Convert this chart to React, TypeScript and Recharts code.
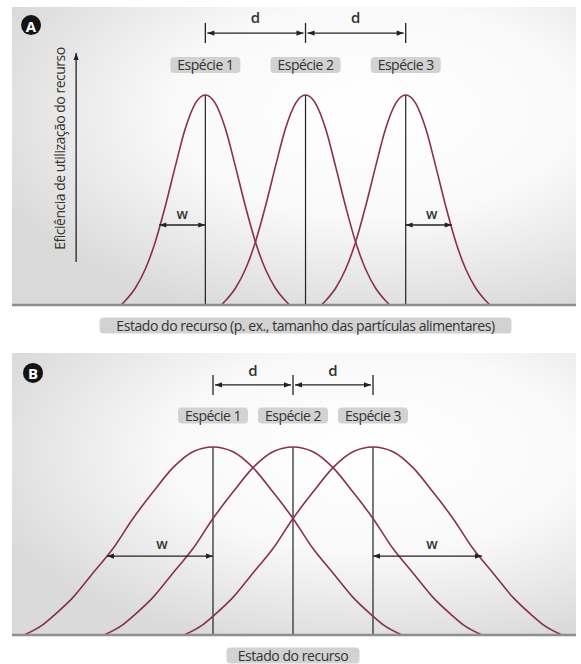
import { ComposedChart, Line, XAxis, YAxis, ReferenceLine, ReferenceDot, ReferenceArea } from "recharts";

const FONT = "'Open Sans', sans-serif";
const CURVE = "#8a2f4f";
const INK = "#222";

// panel A: narrow niches (x in resource units, species 2 at 0)
const offsetsA = [-8.4, -8, -7, -6, -5, -4, -3, -2, -1, 0, 1, 2, 3, 4, 5, 6, 7, 8, 8.4];
const profileA = [0, 0.02, 0.08, 0.17, 0.3, 0.47, 0.66, 0.84, 0.96, 1, 0.96, 0.84, 0.66, 0.47, 0.3, 0.17, 0.08, 0.02, 0];
const centersA = [-10, 0, 10];

// panel B: wide niches
const offsetsB = [-18.9, -17, -16, -14, -12, -10, -8, -6, -4, -2, 0, 2, 4, 6, 8, 10, 12, 14, 16, 17, 18.9];
const profileB = [0, 0.055, 0.1, 0.2, 0.33, 0.46, 0.62, 0.76, 0.89, 0.975, 1, 0.975, 0.89, 0.76, 0.62, 0.46, 0.33, 0.2, 0.1, 0.055, 0];
const centersB = [-8, 0, 8];

const speciesLabels = ["Espécie 1", "Espécie 2", "Espécie 3"];
const yLabel = "Eficiência de utilização do recurso";
const xLabelA = "Estado do recurso (p. ex., tamanho das partículas alimentares)";
const xLabelB = "Estado do recurso";

function buildCurve(offsets: number[], profile: number[], center: number) {
  return offsets.map((o, i) => ({ x: center + o, y: profile[i] }));
}

function Head({ x, y, dx, dy }: { x: number; y: number; dx: number; dy: number }) {
  const L = 7, W = 2.6;
  const bx = x - dx * L, by = y - dy * L;
  const pts = `${x},${y} ${bx - dy * W},${by + dx * W} ${bx + dy * W},${by - dx * W}`;
  return <polygon points={pts} fill={INK} />;
}

function ArrowLine(p: any) {
  const { x1, y1, x2, y2, start, end } = p;
  const len = Math.hypot(x2 - x1, y2 - y1) || 1;
  const dx = (x2 - x1) / len, dy = (y2 - y1) / len;
  const gap = p.gap ?? 0;
  const sx = x1 + dx * gap, sy = y1 + dy * gap, ex = x2 - dx * gap, ey = y2 - dy * gap;
  return (
    <g>
      <line x1={sx} y1={sy} x2={ex} y2={ey} stroke={INK} strokeWidth={1.3} />
      {start && <Head x={sx} y={sy} dx={-dx} dy={-dy} />}
      {end && <Head x={ex} y={ey} dx={dx} dy={dy} />}
    </g>
  );
}

function Tag({ cx, cy, text, width, spacing }: any) {
  return (
    <g>
      <rect x={cx - width / 2} y={cy - 8} width={width} height={16} rx={4} fill="#d2d2d2" />
      <text x={cx} y={cy} textAnchor="middle" dominantBaseline="central" fontFamily={FONT} fontSize={14} fill="#333"
        letterSpacing={spacing ?? -0.5}>
        {text}
      </text>
    </g>
  );
}

function Badge({ cx, cy, letter }: any) {
  return (
    <g>
      <circle cx={cx} cy={cy} r={10} fill="#141414" />
      <text x={cx} y={cy + 0.5} textAnchor="middle" dominantBaseline="central" fontFamily={FONT} fontWeight={700} fontSize={15} fill="#fff">
        {letter}
      </text>
    </g>
  );
}

function Letter({ cx, cy, text, size }: any) {
  return (
    <text x={cx} y={cy} textAnchor="middle" dominantBaseline="central" fontFamily={FONT} fontSize={size} fontWeight={600} fill="#333">
      {text}
    </text>
  );
}

type PanelProps = {
  id: string;
  height: number;
  top: number;
  axisHeight: number;
  xDomain: [number, number];
  yMax: number;
  offsets: number[];
  profile: number[];
  centers: number[];
  dY: number;
  dTick: [number, number];
  dLabelY: number;
  tagY: number;
  tagWidths: number[];
  wY: number;
  wLeft: [number, number];
  wRight: [number, number];
  wLabelY: number;
  wLabelX: [number, number];
  badge: [number, number];
  xLabel: string;
  xLabelY: number;
  xLabelWidth: number;
  showYLabel?: boolean;
};

function Panel(c: PanelProps) {
  const [c1, c2, c3] = c.centers;
  return (
    <ComposedChart width={581} height={c.height} margin={{ top: c.top, right: 5, left: 12, bottom: 0 }}>
      <defs>
        <radialGradient id={`bg-${c.id}`} cx="0.64" cy="0.35" r="0.72">
          <stop offset="0" stopColor="#ffffff" />
          <stop offset="0.5" stopColor="#f9f9f9" />
          <stop offset="1" stopColor="#dadada" />
        </radialGradient>
      </defs>
      <XAxis type="number" dataKey="x" domain={c.xDomain} allowDataOverflow tick={false} tickLine={false}
        axisLine={{ stroke: "#8e8e8e", strokeWidth: 2.5 }} height={c.axisHeight} />
      <YAxis type="number" domain={[0, c.yMax]} allowDataOverflow hide />
      <ReferenceArea x1={c.xDomain[0]} x2={c.xDomain[1]} y1={0} y2={c.yMax} fill={`url(#bg-${c.id})`} fillOpacity={1} stroke="none" />

      {c.centers.map((ctr, i) => (
        <ReferenceLine key={`v${i}`} segment={[{ x: ctr, y: 0 }, { x: ctr, y: 1 }]} stroke={INK} strokeWidth={1.2} />
      ))}

      {c.centers.map((ctr, i) => (
        <Line key={`s${i}`} data={buildCurve(c.offsets, c.profile, ctr)} dataKey="y" type="monotone"
          stroke={CURVE} strokeWidth={1.6} dot={false} activeDot={false} isAnimationActive={false} />
      ))}

      {/* d spacing */}
      {c.centers.map((ctr, i) => (
        <ReferenceLine key={`t${i}`} segment={[{ x: ctr, y: c.dTick[0] }, { x: ctr, y: c.dTick[1] }]} stroke={INK} strokeWidth={1.3} />
      ))}
      <ReferenceLine segment={[{ x: c1, y: c.dY }, { x: c2, y: c.dY }]}
        shape={(p: any) => <ArrowLine {...p} start end gap={2} />} />
      <ReferenceLine segment={[{ x: c2, y: c.dY }, { x: c3, y: c.dY }]}
        shape={(p: any) => <ArrowLine {...p} start end gap={2} />} />
      <ReferenceDot x={(c1 + c2) / 2} y={c.dLabelY} ifOverflow="visible" shape={(p: any) => <Letter {...p} text="d" size={15} />} />
      <ReferenceDot x={(c2 + c3) / 2} y={c.dLabelY} ifOverflow="visible" shape={(p: any) => <Letter {...p} text="d" size={15} />} />

      {c.centers.map((ctr, i) => (
        <ReferenceDot key={`l${i}`} x={ctr} y={c.tagY} ifOverflow="visible"
          shape={(p: any) => <Tag {...p} text={speciesLabels[i]} width={c.tagWidths[i]} />} />
      ))}

      {/* w widths */}
      <ReferenceLine segment={[{ x: c.wLeft[0], y: c.wY }, { x: c.wLeft[1], y: c.wY }]}
        shape={(p: any) => <ArrowLine {...p} start end />} />
      <ReferenceLine segment={[{ x: c.wRight[0], y: c.wY }, { x: c.wRight[1], y: c.wY }]}
        shape={(p: any) => <ArrowLine {...p} start end />} />
      <ReferenceDot x={c.wLabelX[0]} y={c.wLabelY} ifOverflow="visible" shape={(p: any) => <Letter {...p} text="w" size={14} />} />
      <ReferenceDot x={c.wLabelX[1]} y={c.wLabelY} ifOverflow="visible" shape={(p: any) => <Letter {...p} text="w" size={14} />} />

      <ReferenceDot x={c.badge[0]} y={c.badge[1]} ifOverflow="visible"
        shape={(p: any) => <Badge {...p} letter={c.id} />} />

      {c.showYLabel && (
        <ReferenceLine segment={[{ x: -22.9, y: 0.205 }, { x: -22.9, y: 1.2 }]}
          shape={(p: any) => <ArrowLine {...p} end />} />
      )}
      {c.showYLabel && (
        <ReferenceDot x={-24.6} y={0.745} ifOverflow="visible"
          shape={(p: any) => (
            <text x={p.cx} y={p.cy} transform={`rotate(-90 ${p.cx} ${p.cy})`} textAnchor="middle" dominantBaseline="central"
              fontFamily={FONT} fontSize={14} fill="#333" letterSpacing={-0.5}>
              {yLabel}
            </text>
          )} />
      )}

      <ReferenceDot x={0} y={c.xLabelY} ifOverflow="visible"
        shape={(p: any) => <Tag {...p} text={c.xLabel} width={c.xLabelWidth} spacing={-0.45} />} />
    </ComposedChart>
  );
}

export default function App() {
  return (
    <div style={{ width: 581, height: 664, background: "#fff", position: "relative" }}>
      <style>{"body{margin:0}"}</style>
      <div style={{ position: "absolute", left: 0, top: 0 }}>
        <Panel id="A" height={340} top={7} axisHeight={35} xDomain={[-29.3, 27]} yMax={1.419}
          offsets={offsetsA} profile={profileA} centers={centersA}
          dY={1.295} dTick={[1.248, 1.343]} dLabelY={1.371} tagY={1.143} tagWidths={[70, 70, 70]}
          wY={0.381} wLeft={[-14.6, -10]} wRight={[10, 14.6]} wLabelY={0.438} wLabelX={[-12.3, 12.6]}
          badge={[-27.4, 1.333]} xLabel={xLabelA} xLabelY={-0.098} xLabelWidth={412} showYLabel />
      </div>
      <div style={{ position: "absolute", left: 0, top: 340 }}>
        <Panel id="B" height={324} top={13} axisHeight={29} xDomain={[-28.1, 28.3]} yMax={1.5}
          offsets={offsetsB} profile={profileB} centers={centersB}
          dY={1.33} dTick={[1.277, 1.383]} dLabelY={1.41} tagY={1.168} tagWidths={[70, 70, 70]}
          wY={0.42} wLeft={[-18.6, -8]} wRight={[8, 18.9]} wLabelY={0.489} wLabelX={[-13.1, 13.9]}
          badge={[-26, 1.394]} xLabel={xLabelB} xLabelY={-0.109} xLabelWidth={133} />
      </div>
    </div>
  );
}
